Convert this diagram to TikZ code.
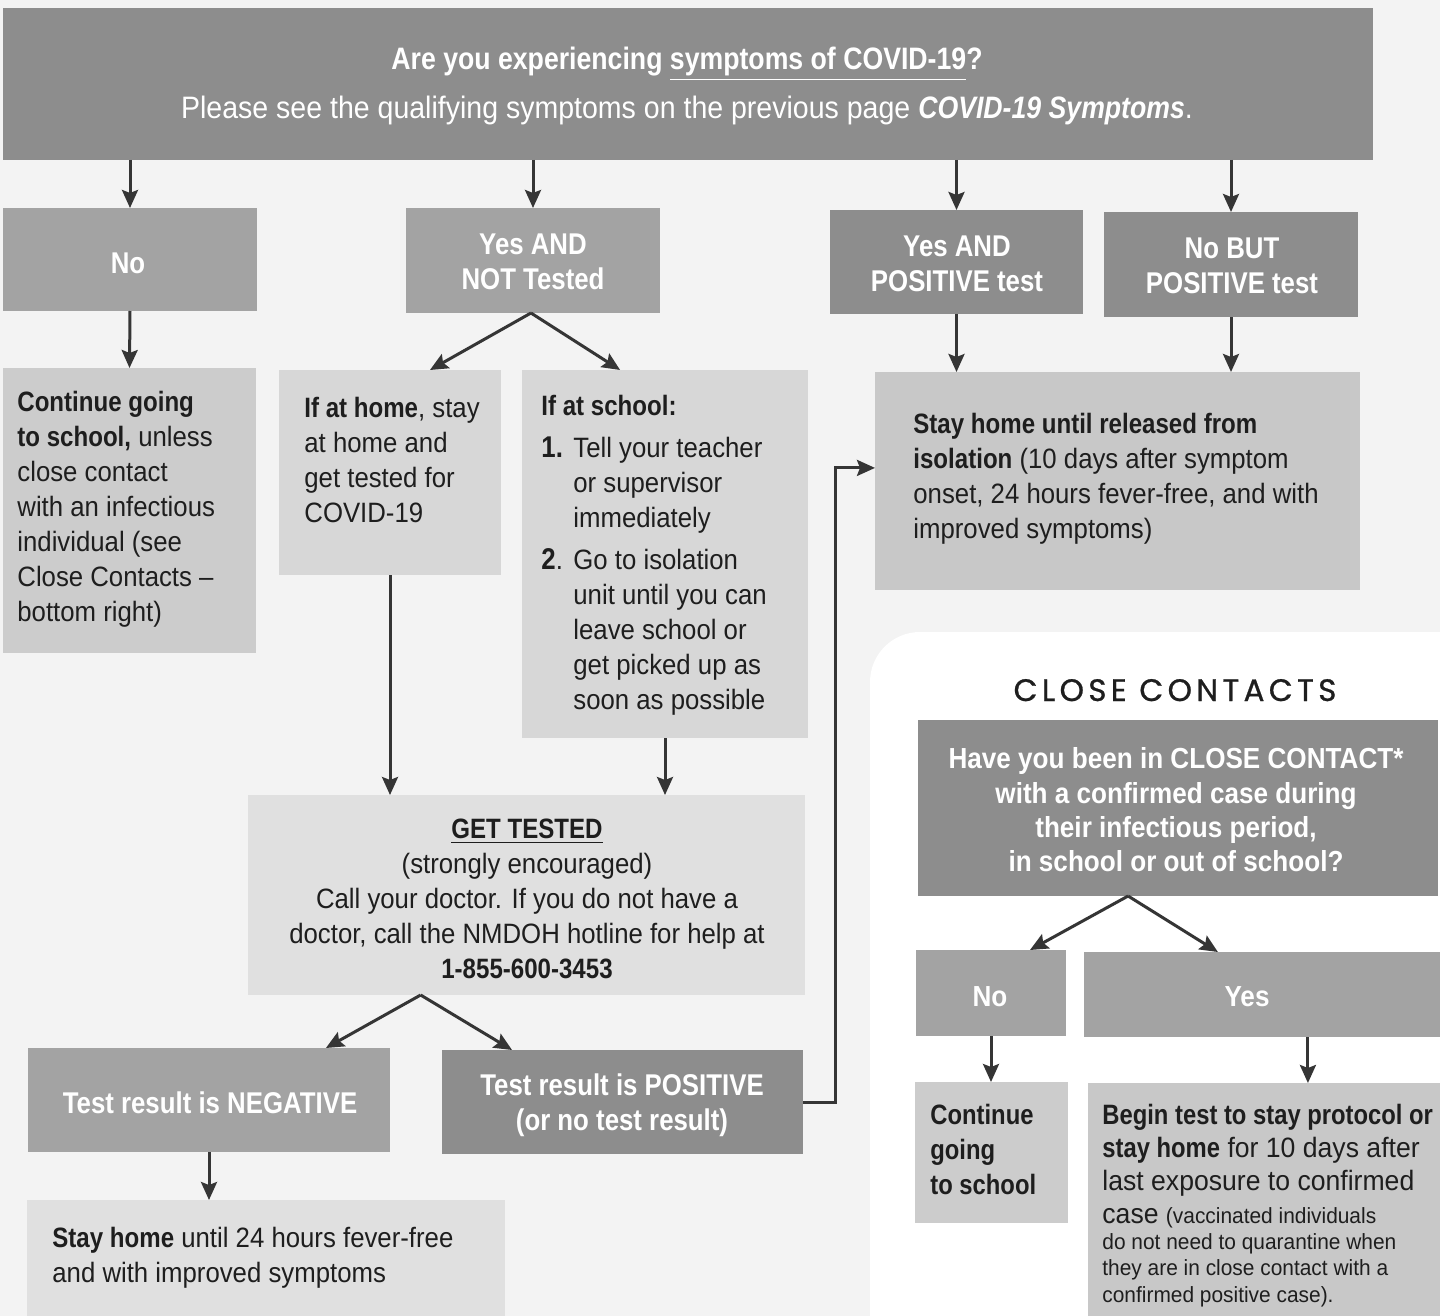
\documentclass[tikz,border=0pt]{standalone}
\usepackage{fontspec}
\setmainfont{Liberation Sans}
\newfontfamily\cn[FakeStretch=0.92]{Liberation Sans}
\newfontfamily\cnb[FakeStretch=0.86]{Liberation Sans Bold}
\newfontfamily\cnbi[FakeStretch=0.86]{Liberation Sans Bold Italic}
\newfontfamily\rr[FakeStretch=0.95]{Liberation Sans}
\newfontfamily\rb[FakeStretch=0.85]{Liberation Sans Bold}
\newfontfamily\rbw[FakeStretch=0.9]{Liberation Sans Bold}
\newfontfamily\pop[LetterSpace=14,FakeBold=0.8]{Poppins}
\usetikzlibrary{arrows.meta,calc}
\definecolor{bg}{HTML}{F3F3F3}
\definecolor{dk}{HTML}{8D8D8D}
\definecolor{md}{HTML}{A3A3A3}
\definecolor{lt}{HTML}{C8C8C8}
\definecolor{lc}{HTML}{CCCCCC}
\definecolor{vl}{HTML}{D7D7D7}
\definecolor{pl}{HTML}{E0E0E0}
\definecolor{ink}{HTML}{1E1E1E}
\definecolor{arrc}{HTML}{353535}
\newcommand{\B}[1]{{\cnb #1}}
\newcommand{\mybox}[6]{\node[box, fill=#2, minimum width={(#5-#3)*0.5pt}, minimum height={(#6-#4)*0.5pt}] (#1) at ({(#3+#5)/2},{(#4+#6)/2}) {};}
\begin{document}
\begin{tikzpicture}[x=0.5pt,y=-0.5pt,
  box/.style={rectangle, draw=none, inner sep=0pt, outer sep=0pt},
  txt/.style={inner sep=0pt, anchor=north west, align=left, text=ink, font=\fontsize{14}{17.5}\selectfont\cn},
  lbl/.style={inner sep=0pt, align=center, text=white, font=\fontsize{15}{17.5}\selectfont\cnb},
  arrow/.style={draw=arrc, line width=1.5pt, -{Stealth[length=9pt,width=8pt,inset=1.5pt]}}]
\fill[bg] (0,0) rectangle (1440,1316);
\useasboundingbox (0,0) rectangle (1440,1316);
\fill[white, rounded corners=25pt] (870,1420) -- (870,632) -- (1520,632) -- (1520,1420) -- cycle;
% boxes
\mybox{top}{dk}{3}{8}{1373}{160}
\mybox{no}{md}{3}{208}{257}{311}
\mybox{yant}{md}{406}{208}{660}{313}
\mybox{yap}{dk}{830}{210}{1083}{314}
\mybox{nbp}{dk}{1104}{212}{1358}{317}
\mybox{cont}{lc}{3}{368}{256}{653}
\mybox{home}{vl}{279}{370}{501}{575}
\mybox{school}{vl}{522}{370}{808}{738}
\mybox{iso}{lt}{875}{372}{1360}{590}
\mybox{get}{pl}{248}{795}{805}{995}
\mybox{neg}{md}{28}{1048}{390}{1152}
\mybox{pos}{dk}{442}{1050}{803}{1154}
\mybox{stay}{pl}{27}{1200}{505}{1316}
\mybox{ccq}{dk}{918}{720}{1438}{896}
\mybox{ccno}{md}{916}{950}{1066}{1036}
\mybox{ccyes}{md}{1084}{952}{1440}{1037}
\mybox{ccc}{lc}{915}{1082}{1068}{1223}
\mybox{begin}{lt}{1088}{1083}{1440}{1316}
% title
\node[inner sep=0pt, anchor=base, text=ink, font=\fontsize{15.5}{17}\selectfont\pop] (cctitle) at (1175,701) {CLOSE CONTACTS};
% texts
\node[lbl, anchor=base, font=\fontsize{15.5}{17}\selectfont\cnb] (tq1) at (687,70) {Are you experiencing \underline{symptoms of COVID-19}?};
\node[lbl, anchor=base, font=\fontsize{15.5}{17}\selectfont\cn] (tq2) at (687,119) {Please see the qualifying symptoms on the previous page {\cnbi COVID-19 Symptoms}.};
\node[lbl] (lno) at (128,263) {No};
\node[lbl] (lyant) at (533,262) {Yes AND\\NOT Tested};
\node[lbl] (lyap) at (957,264) {Yes AND\\POSITIVE test};
\node[lbl] (lnbp) at (1232,266) {No BUT\\POSITIVE test};
\node[lbl] (lneg) at (210,1103) {Test result is NEGATIVE};
\node[lbl] (lpos) at (622,1105) {Test result is POSITIVE\\(or no test result)};
\node[lbl, font=\fontsize{14.5}{17.2}\selectfont\rbw] (lccq) at (1176,810) {Have you been in CLOSE CONTACT*\\with a confirmed case during\\their infectious period,\\in school or out of school?};
\node[lbl, font=\fontsize{14.5}{17}\selectfont\rbw] (lccno) at (990,997) {No};
\node[lbl, font=\fontsize{14.5}{17}\selectfont\rbw] (lccyes) at (1247,997) {Yes};
\node[txt] (tcont) at (17,391) {\B{Continue going}\\\B{to school,} unless\\close contact\\with an infectious\\individual (see\\Close Contacts –\\bottom right)};
\node[txt] (thome) at (304,397) {\B{If at home}, stay\\at home and\\get tested for\\COVID-19};
\node[txt] (tschool) at (541,395) {\B{If at school:}\\[3.5pt]
\makebox[16pt][l]{\fontsize{15}{17.5}\selectfont\cnb 1.}Tell your teacher\\
\hspace*{16pt}or supervisor\\
\hspace*{16pt}immediately\\[3.5pt]
\makebox[16pt][l]{{\fontsize{15}{17.5}\selectfont\cnb 2}.}Go to isolation\\
\hspace*{16pt}unit until you can\\
\hspace*{16pt}leave school or\\
\hspace*{16pt}get picked up as\\
\hspace*{16pt}soon as possible};
\node[txt] (tiso) at (913,413) {\B{Stay home until released from}\\\B{isolation} (10 days after symptom\\onset, 24 hours fever-free, and with\\improved symptoms)};
\node[txt, anchor=north, align=center] (tget) at (527,819) {\underline{\B{GET TESTED}}\\(strongly encouraged)\\Call your doctor. If you do not have a\\doctor, call the NMDOH hotline for help at\\\B{1-855-600-3453}};
\node[txt] (tstay) at (52,1227) {\B{Stay home} until 24 hours fever-free\\and with improved symptoms};
\node[txt, font=\fontsize{14}{17.5}\selectfont\rb] (tccc) at (930,1104) {Continue\\going\\to school};
\node[txt, font=\fontsize{14}{16.5}\selectfont\rr] (tbeg1) at (1102,1104) {{\rb Begin test to stay protocol or}\\{\rb stay home} for 10 days after\\last exposure to confirmed\\case {\fontsize{11}{13}\selectfont(vaccinated individuals}};
\node[txt, font=\fontsize{11}{13.25}\selectfont\rr] (tbeg2) at (1102,1233) {do not need to quarantine when\\they are in close contact with a\\confirmed positive case).};
% connectors
\draw[arrow] (top.south -| no.north) -- (no.north);
\draw[arrow] (top.south -| yant.north) -- (yant.north);
\draw[arrow] (top.south -| yap.north) -- (yap.north);
\draw[arrow] (top.south -| nbp.north) -- (nbp.north);
\draw[arrow] (no.south) -- (cont.north);
\coordinate (ya) at ($(yant.south west)!0.492!(yant.south east)$);
\draw[arrow] (ya) -- ($(home.north west)!0.68!(home.north east)$);
\draw[arrow] (ya) -- ($(school.north west)!0.343!(school.north east)$);
\draw[arrow] (yap.south) -- (yap.south |- iso.north);
\draw[arrow] (nbp.south) -- (nbp.south |- iso.north);
\draw[arrow] (home.south) -- (home.south |- get.north);
\draw[arrow] (school.south) -- (school.south |- get.north);
\coordinate (ga) at ($(get.south west)!0.31!(get.south east)$);
\draw[arrow] (ga) -- ($(neg.north west)!0.823!(neg.north east)$);
\draw[arrow] (ga) -- ($(pos.north west)!0.194!(pos.north east)$);
\draw[arrow] (neg.south) -- (neg.south |- stay.north);
\coordinate (isoin) at ($(iso.north west)!0.44!(iso.south west)$);
\draw[arrow] (pos.east) -- ++(32,0) |- (isoin);
\coordinate (ca) at ($(ccq.south west)!0.404!(ccq.south east)$);
\draw[arrow] (ca) -- ($(ccno.north west)!0.76!(ccno.north east)$);
\draw[arrow] (ca) -- ($(ccyes.north west)!0.376!(ccyes.north east)$);
\draw[arrow] (ccno.south) -- (ccno.south |- ccc.north);
\coordinate (cy) at ($(ccyes.south west)!0.629!(ccyes.south east)$);
\draw[arrow] (cy) -- (cy |- begin.north);
\end{tikzpicture}
\end{document}
